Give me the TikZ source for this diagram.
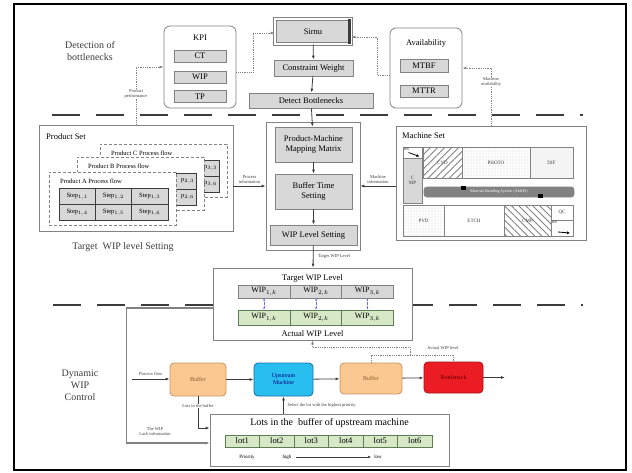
\documentclass[tikz,border=0pt]{standalone}
\usepackage{fontspec}
\setmainfont{Liberation Serif}
\usepackage{tikz}
\usetikzlibrary{positioning, calc, arrows.meta, patterns.meta}
\definecolor{wfGray}{RGB}{130, 130, 130}
\definecolor{wfDark}{RGB}{60, 60, 60}
\definecolor{wfFill}{RGB}{216, 216, 216}
\definecolor{wfGreen}{RGB}{214, 232, 198}
\definecolor{wfGreenLine}{RGB}{95, 125, 85}
\definecolor{wfOrange}{RGB}{251, 200, 145}
\definecolor{wfOrangeLine}{RGB}{200, 150, 100}
\definecolor{wfCyan}{RGB}{40, 190, 240}
\definecolor{wfCyanLine}{RGB}{20, 110, 170}
\definecolor{wfRed}{RGB}{236, 28, 36}
\definecolor{wfRedLine}{RGB}{165, 20, 20}
\tikzset{
    base/.style={
        font=\fontsize{8.5}{9.5}\selectfont,
        align=center,
        inner sep=0pt
    },
    stage/.style={
        base,
        font=\fontsize{10}{12}\selectfont,
        text=wfDark
    },
    panel/.style={
        base,
        rectangle,
        rounded corners=6pt,
        draw=wfGray,
        thick,
        fill=white
    },
    setbox/.style={
        base,
        rectangle,
        draw=wfGray,
        thick,
        fill=white
    },
    item/.style={
        base,
        rectangle,
        draw=wfGray,
        thick,
        fill=wfFill
    },
    procbox/.style={
        rectangle,
        draw=wfGray,
        densely dashed,
        fill=white,
        minimum width=127pt,
        minimum height=53pt
    },
    stepcell/.style={
        base,
        font=\fontsize{6.5}{7}\selectfont,
        rectangle,
        draw=wfDark,
        fill=wfFill,
        minimum width=36.3pt,
        minimum height=16pt
    },
    wipcell/.style={
        base,
        font=\fontsize{8}{9}\selectfont,
        rectangle,
        draw=wfGray,
        thick,
        minimum width=52pt,
        minimum height=13pt
    },
    lotcell/.style={
        base,
        rectangle,
        draw=wfGreenLine,
        fill=wfGreen,
        minimum width=34.5pt,
        minimum height=12pt
    },
    mach/.style={
        base,
        font=\fontsize{5}{5.5}\selectfont,
        rectangle,
        draw=wfGray,
        thick,
        text=wfDark
    },
    stagebox/.style={
        base,
        font=\fontsize{6}{7}\selectfont,
        rectangle,
        rounded corners=4pt,
        thick,
        minimum height=33pt
    },
    tag/.style={
        font=\fontsize{4.5}{5}\selectfont,
        align=center,
        fill=white,
        inner sep=0.5pt,
        text=wfDark
    },
    flow/.style={
        -{Latex[length=4pt, width=3pt]},
        thick,
        color=wfDark
    },
    dflow/.style={
        flow,
        densely dotted,
        color=wfGray
    },
    lack/.style={
        flow,
        line width=1.2pt,
        color=wfGray
    },
    wiplink/.style={
        {Latex[length=2pt, width=2pt]}-{Latex[length=2pt, width=2pt]},
        densely dotted,
        color=blue!60
    },
    sep/.style={
        line width=2.5pt,
        color=wfDark,
        dash pattern=on 28pt off 16pt
    }
}

\begin{document}
\begin{tikzpicture}[x=1pt, y=-1pt]
  \useasboundingbox (0,0) rectangle (632,472);
  \draw[line width=1.6pt] (14,4) rectangle (626,470);

  % Stage labels
  \node[stage] (detlbl) at (90,51) {Detection of\\bottlenecks};
  \node[stage] (tgtlbl) at (123,247) {Target\ \ WIP level Setting};
  \node[stage] (dynlbl) at (80,385) {Dynamic\\WIP\\Control};

  % Separators
  \draw[sep] (52,115) -- (583,115);
  \draw[sep] (53,305) -- (583,305);

  % KPI and availability
  \node[panel, minimum width=72pt, minimum height=82pt] (kpi) at (200,67) {};
  \node[base] (kpit) at (200,38) {KPI};
  \node[item, minimum width=52pt, minimum height=12pt] (ct) at (200,56) {CT};
  \node[item, minimum width=52pt, minimum height=12pt] (wip) at (200,77) {WIP};
  \node[item, minimum width=52pt, minimum height=12pt] (tp) at (200,96.5) {TP};

  \node[panel, minimum width=72pt, minimum height=80pt] (avail) at (426,68) {};
  \node[base] (availt) at (426,43) {Availability};
  \node[item, minimum width=48pt, minimum height=13pt] (mtbf) at (424,65.5) {MTBF};
  \node[item, minimum width=48pt, minimum height=12pt] (mttr) at (424,91) {MTTR};

  % Bottleneck detection
  \node[base, draw=wfGray, thick, double, double distance=1.5pt, fill=wfFill,
        minimum width=76pt, minimum height=25pt] (sirnu) at (313,31.5) {Sirnu};
  \fill[wfDark] ([xshift=-3pt]sirnu.north east) rectangle (sirnu.south east);
  \node[item, minimum width=79pt, minimum height=16pt] (cw) at (313.5,68) {Constraint Weight};
  \node[item, minimum width=124pt, minimum height=15pt] (detb) at (311,100.5) {Detect Bottlenecks};

  \draw[flow] (sirnu) -- (cw);
  \draw[flow] (cw) -- (detb);
  \draw[dflow] ([yshift=-5pt]kpi.east) -- ++(17,0) |- ([yshift=-1.5pt]sirnu.west);
  \draw[dflow] ([yshift=-7pt]avail.west) -- ++(-12,0) |- ([yshift=-5.5pt]sirnu.east);

  % Product set
  \node[setbox, minimum width=194pt, minimum height=106pt] (prodset) at (136,178) {};
  \node[base, anchor=west] (prodsett) at (46,137) {Product Set};
  % C and B lie behind A: only their last column shows
  \foreach \p/\k/\dx/\dy in {C/3/51/-28, B/2/28/-15}{
    \node[procbox] (pf\p) at (112.5+\dx,198.5+\dy) {};
    \node[base, font=\fontsize{6.5}{7}\selectfont, anchor=west] (pft\p) at (60+\dx,181+\dy) {Product \p\ Process flow};
    \node[stepcell] (s\k3) at (149.8+\dx,196+\dy) {};
    \node[stepcell] (s\k6) at (149.8+\dx,212+\dy) {};
    \node[base, font=\fontsize{6.5}{7}\selectfont, anchor=east] (s\k3t) at ([xshift=-2pt]s\k3.east) {p$_{\k,3}$};
    \node[base, font=\fontsize{6.5}{7}\selectfont, anchor=east] (s\k6t) at ([xshift=-2pt]s\k6.east) {p$_{\k,6}$};
  }
  \node[procbox] (pfA) at (112.5,198.5) {};
  \node[base, font=\fontsize{6.5}{7}\selectfont, anchor=west] (pftA) at (60,181) {Product A Process flow};
  \foreach \i in {1,...,6}{
    \pgfmathtruncatemacro{\col}{mod(\i-1,3)}
    \pgfmathtruncatemacro{\row}{int((\i-1)/3)}
    \node[stepcell] (s1\i) at (77.2+36.3*\col,196+16*\row) {Step$_{1,\i}$};
  }

  % Machine set
  \node[setbox, minimum width=190pt, minimum height=114pt] (machset) at (491,183) {};
  \node[base, anchor=west] (machsett) at (402,136) {Machine Set};
  \node[mach, minimum width=19pt, minimum height=11pt] (ws1) at (412.5,152.5) {};
  \node[base, font=\fontsize{3.5}{4}\selectfont, anchor=north west] (ws1t) at ([xshift=1pt, yshift=-1pt]ws1.north west) {WS};
  \draw[-{Latex[length=3pt, width=3pt]}, thick] ([xshift=-4pt, yshift=0pt]ws1.center) -- ([xshift=7pt, yshift=-4pt]ws1.center);
  \node[mach, fill=wfFill, minimum width=19pt, minimum height=45pt] (cmp1) at (412.5,180.5) {C\\MP};
  \node[mach, pattern={Lines[angle=45, distance=5pt, line width=0.9pt]}, pattern color=wfGray,
        minimum width=39pt, minimum height=31pt] (cvd) at (442.5,162.5) {CVD};
  \node[mach, pattern={Dots[distance=3pt, radius=0.4pt]}, pattern color=wfGray,
        minimum width=68pt, minimum height=31pt] (photo) at (496,162.5) {PHOTO};
  \node[mach, pattern={Dots[distance=2pt, radius=0.45pt]}, pattern color=wfGray,
        minimum width=43pt, minimum height=31pt] (dif) at (551.5,162.5) {DIF};
  \node[mach, fill=wfGray, rounded corners=3pt, text=white, font=\fontsize{4}{4.5}\selectfont,
        minimum width=150pt, minimum height=10pt] (amhs) at (499,192) {Material Handling System (AMHS)};
  \fill[black] (461,186) rectangle (466,190);
  \fill[black] (538,194) rectangle (543,198);
  \node[mach, pattern={Dots[distance=3pt, radius=0.4pt]}, pattern color=wfGray,
        minimum width=41pt, minimum height=31pt] (pvd) at (423.5,220.5) {PVD};
  \node[mach, minimum width=60pt, minimum height=31pt] (etch) at (474,220.5) {ETCH};
  \node[mach, pattern={Lines[angle=-45, distance=5pt, line width=0.9pt]}, pattern color=wfGray,
        minimum width=47pt, minimum height=31pt] (cmp2) at (527.5,220.5) {CMP};
  \node[mach, minimum width=22pt, minimum height=15pt] (qc) at (562,212.5) {QC};
  \node[mach, minimum width=22pt, minimum height=16pt] (ws2) at (562,228) {};
  \node[base, font=\fontsize{3.5}{4}\selectfont, anchor=north west] (ws2t) at ([xshift=1pt, yshift=-1pt]ws2.north west) {WS};
  \draw[-{Latex[length=3pt, width=3pt]}, thick] ([xshift=-4pt, yshift=-4pt]ws2.center) -- ([xshift=8pt, yshift=-5pt]ws2.center);

  % WIP level setting
  \node[setbox, minimum width=94pt, minimum height=128pt] (mid) at (313,186) {};
  \node[item, minimum width=77pt, minimum height=35pt] (pmm) at (313.5,144.5) {Product-Machine\\Mapping Matrix};
  \node[item, minimum width=77pt, minimum height=35pt] (bts) at (313.5,191.5) {Buffer Time\\Setting};
  \node[item, minimum width=87pt, minimum height=20pt] (wls) at (313.5,235) {WIP Level Setting};

  \draw[flow] (detb) -- (pmm);
  \draw[flow] (pmm) -- (bts);
  \draw[flow] (bts) -- (wls);
  \draw[flow] (prodset.east |- mid.west) -- node[tag, above=2pt] (pinfo) {Process\\information} (mid.west);
  \draw[flow] (machset.west |- mid.east) -- node[tag, above=2pt] (minfo) {Machine\\information} (mid.east);
  \draw[dflow] (prodset.north) -- (prodset.north |- kpi.west) -- (kpi.west);
  \node[tag] (pperf) at (136,94) {Product\\performance};
  \draw[dflow] (machset.north) -- (machset.north |- avail.east) -- (avail.east);
  \node[tag] (mavail) at (491,82) {Machine\\availability};

  % Target and actual WIP level
  \node[setbox, minimum width=199pt, minimum height=72pt] (twip) at (312.5,304) {};
  \node[base] (twipt) at (312.5,278) {Target WIP Level};
  \node[base] (awipt) at (312.5,334) {Actual WIP Level};
  \foreach \i/\x in {1/264, 2/316, 3/367.5}{
    \node[wipcell, fill=wfFill] (t\i) at (\x,291.5) {WIP$_{\i,k}$};
    \node[wipcell, fill=wfGreen, draw=wfGreenLine, minimum height=15pt] (a\i) at (\x,317.5) {WIP$_{\i,k}$};
    \draw[wiplink] (t\i) -- (a\i);
  }
  \draw[flow] (wls) -- node[tag, right=4pt] (twl) {Target WIP Level} (twip);

  % Dynamic WIP control line
  \coordinate (pfin) at (132,379);
  \coordinate (pfout) at (505,377.5);
  \node[stagebox, fill=wfOrange, draw=wfOrangeLine, text=brown!70!black, minimum width=56pt] (buf1) at (198,379.5) {Buffer};
  \node[stagebox, fill=wfCyan, draw=wfCyanLine, text=blue!50!black, minimum width=59pt] (upm) at (283.5,379.5) {Upstream\\Machine};
  \node[stagebox, fill=wfOrange, draw=wfOrangeLine, text=brown!70!black, minimum width=62pt, minimum height=31pt] (buf2) at (371,378.5) {Buffer};
  \node[stagebox, fill=wfRed, draw=wfRedLine, text=red!40!black, minimum width=59pt, minimum height=31pt] (bneck) at (453.5,377.5) {Bottleneck};

  \draw[flow] (pfin) -- node[tag, above=3pt] (pflow) {Process flow} (pfin -| buf1.west);
  \draw[flow] (buf1) -- (upm);
  \draw[flow] (upm) -- (buf2);
  \draw[flow] (buf2) -- (bneck);
  \draw[flow] (bneck) -- (pfout);

  % Feedback of actual WIP
  \coordinate (fb) at (410,355);
  \draw[dflow, -] (buf2.north) |- (fb) -| (bneck.north);
  \draw[dflow, color=wfGray] (fb) -- ++(0,-8) -| (twip.south);
  \node[tag, fill=none] (awl) at (443,348) {Actual WIP level};

  % Lots in the buffer
  \node[setbox, minimum width=239pt, minimum height=52pt] (lots) at (329.5,440) {};
  \node[base, font=\fontsize{10}{11}\selectfont] (lotst) at (329.5,423) {Lots in the\ \ buffer of upstream machine};
  \foreach \i in {1,...,6}
    \node[lotcell] (lot\i) at (242.25+34.5*\i-34.5,441) {lot\i};
  \node[base, font=\fontsize{5}{6}\selectfont] (prio) at (247,457) {Priority};
  \node[base, font=\fontsize{5}{6}\selectfont] (high) at (287,457) {high};
  \node[base, font=\fontsize{5}{6}\selectfont] (low) at (378,457) {low};
  \draw[-{Latex[length=3pt, width=2.5pt]}, thin, wfDark] ([xshift=4pt]high.east) -- ([xshift=-3pt]low.west);

  \draw[flow] (buf1.south) |- ([yshift=12pt]lots.west);
  \node[tag] (lib) at (198,406) {Lots in the buffer};
  \draw[flow] (upm.south |- lots.north) -- (upm.south);
  \node[tag, anchor=west] (sel) at (287,405) {Select the lot with the highest priority};
  \draw[lack] ([yshift=-4pt]twip.west) -- ++(-86,0) |- ([yshift=-3pt]lots.west);
  \node[tag, fill=none] (lackt) at (155,431) {The WIP\\Lack information};
\end{tikzpicture}
\end{document}
